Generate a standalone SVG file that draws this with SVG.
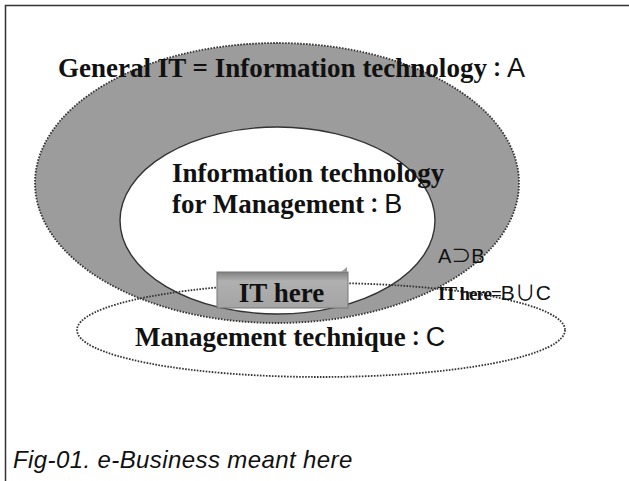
<svg xmlns="http://www.w3.org/2000/svg" width="629" height="481" viewBox="0 0 629 481">
<defs>
<style>
.serif{font-family:"Liberation Serif","Noto Sans CJK JP",serif;font-weight:bold;fill:#111}
.sans{font-family:"Liberation Sans","Noto Sans CJK JP",sans-serif;fill:#111}
.colon{font-family:"Noto Sans CJK JP",sans-serif;font-weight:bold;font-size:20px}
.dot{stroke:#333;stroke-width:1.8;stroke-dasharray:1.6 1.4}
</style>
<linearGradient id="box" x1="0" y1="0" x2="0" y2="1">
<stop offset="0" stop-color="#808080"/>
<stop offset="0.25" stop-color="#b0b0b0"/>
<stop offset="1" stop-color="#a4a4a4"/>
</linearGradient>
</defs>
<rect width="629" height="481" fill="#fff"/>
<path d="M5.5 481 V5.5 H629" fill="none" stroke="#333" stroke-width="1.5"/>
<g id="nodeA">
<ellipse cx="277" cy="183" rx="242" ry="140" fill="#9c9c9c" class="dot"/>
<text class="serif" x="58" y="77" font-size="27">General IT = Information technology<tspan class="colon">：</tspan><tspan class="sans" font-weight="normal">A</tspan></text>
</g>
<g id="nodeB">
<ellipse cx="277.5" cy="220.5" rx="157.5" ry="93.5" fill="#fff" stroke="#333" stroke-width="1.4"/>
<text class="serif" x="172" y="182" font-size="27">Information technology</text>
<text class="serif" x="172" y="213" font-size="27">for Management<tspan class="colon">：</tspan><tspan class="sans" font-weight="normal">B</tspan></text>
</g>
<g id="nodeC">
<ellipse cx="321" cy="330" rx="244" ry="47" fill="none" class="dot"/>
<text class="serif" x="135" y="346" font-size="27">Management technique<tspan class="colon">：</tspan><tspan class="sans" font-weight="normal">C</tspan></text>
</g>
<g id="itHere">
<rect x="217" y="272" width="131" height="36" fill="url(#box)" stroke="#777" stroke-width="1"/>
<path d="M341 272 l6 -5 v5 z" fill="#999"/>
<text class="serif" x="281.5" y="302" font-size="27" text-anchor="middle">IT here</text>
</g>
<g id="labels">
<text class="sans" x="438" y="263" font-size="20">A⊃B</text>
<text x="438" y="300"><tspan class="serif" font-size="19" letter-spacing="-1">IT here=</tspan><tspan class="sans" font-size="21">B∪C</tspan></text>
<text class="sans" x="13" y="468" font-size="24" font-style="italic" letter-spacing="0.4">Fig-01. e-Business meant here</text>
</g>
</svg>
